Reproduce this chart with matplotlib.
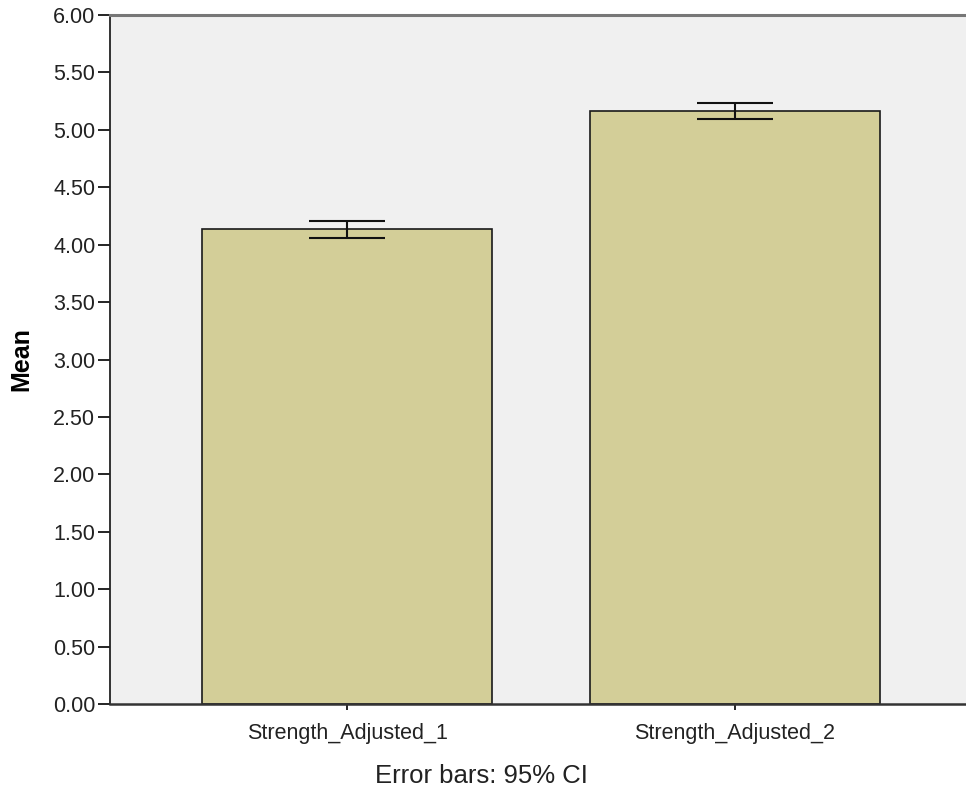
import numpy as np
import matplotlib.pyplot as plt

# mean strength with 95% CI bounds
labels = ['Strength_Adjusted_1', 'Strength_Adjusted_2']
means = [4.14, 5.165]
ci_low = [4.06, 5.09]
ci_high = [4.21, 5.235]
yticks = np.arange(0, 6.01, 0.5)

plt.rcParams['font.family'] = ['Liberation Sans', 'DejaVu Sans']

fig = plt.figure(figsize=(9.66, 7.9), dpi=100)
ax = fig.add_axes([110/966, 86/790, 1 - 110/966, 689/790])
ax.set_facecolor('#f0f0f0')

x = np.arange(len(labels))
means = np.array(means)
yerr = [means - np.array(ci_low), np.array(ci_high) - means]
ax.bar(x, means, width=0.748, color='#d3ce98', edgecolor='#1a1a1a', linewidth=1.2, zorder=2)
ax.errorbar(x, means, yerr=yerr, fmt='none', ecolor='#111111', elinewidth=1.5,
            capsize=27.4, capthick=1.5, zorder=3)

ax.set_xlim(-0.612, 1.597)
ax.set_ylim(0, 6)
ax.set_yticks(yticks)
ax.set_yticklabels(['%.2f' % v for v in yticks], fontsize=15.5, color='#222222')
ax.set_xticks(x)
ax.set_xticklabels(labels, fontsize=15.5, color='#222222')
ax.tick_params(axis='y', direction='out', length=8.6, width=1.2, pad=2)
ax.tick_params(axis='x', direction='out', length=4, width=1.2, pad=10)

ax.spines['right'].set_visible(False)
ax.spines['top'].set_color('#777777')
ax.spines['top'].set_linewidth(2.2)
ax.spines['left'].set_linewidth(1.3)
ax.spines['left'].set_color('#222222')
ax.spines['bottom'].set_linewidth(1.8)
ax.spines['bottom'].set_color('#333333')

ax.set_ylabel('Mean', fontsize=18, fontweight='bold', labelpad=14)
fig.text(481/966, 1 - 776/790, 'Error bars: 95% CI', fontsize=18.5, color='#222222',
         ha='center', va='center')

fig.savefig('out.png', dpi=100)
